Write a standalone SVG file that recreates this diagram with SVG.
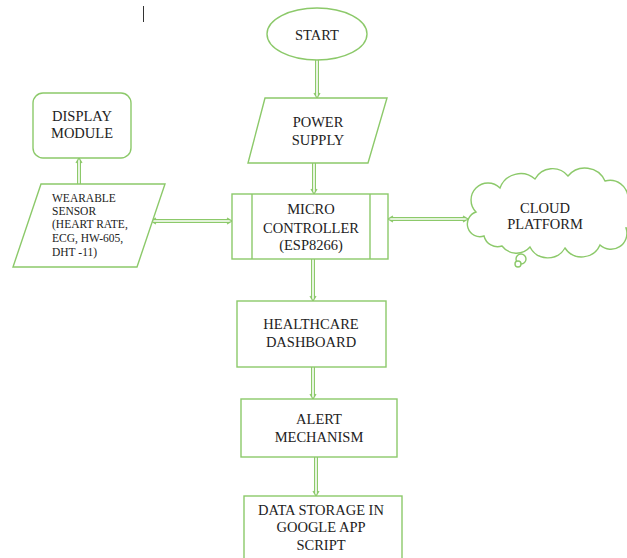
<svg xmlns="http://www.w3.org/2000/svg" width="627" height="558" viewBox="0 0 627 558">
<defs>
<style>
.sh{fill:#fff;stroke:#8cc96a;stroke-width:1.4}
.t{font-family:"Liberation Serif","Times New Roman",serif;font-size:14.5px;fill:#222;text-anchor:middle}
.ts{font-family:"Liberation Serif","Times New Roman",serif;font-size:11.5px;fill:#222}
.dl{stroke:#8cc96a;stroke-width:4;fill:none}
.dw{stroke:#fff;stroke-width:1.6;fill:none}
.ah{stroke:#8cc96a;stroke-width:1.2;fill:none}
</style>
</defs>
<rect width="627" height="558" fill="#fff"/>
<line x1="143.5" y1="6" x2="143.5" y2="22" stroke="#333" stroke-width="1"/>
<g id="cloud">
<path class="sh" d="M484 236 A12 12 0 0 1 476 212 A16 16 0 0 1 500 188 A22 22 0 0 1 535 179 A20 20 0 0 1 568 176 A22 22 0 0 1 605 181 A18 18 0 0 1 628 198 A14 14 0 0 1 626 228 A16 16 0 0 1 600 245 A20 20 0 0 1 565 248 A20 20 0 0 1 530 247 A18 18 0 0 1 502 246 A14 14 0 0 1 484 236 Z"/>
<circle class="sh" cx="521" cy="259" r="5"/>
<circle class="sh" cx="518" cy="264" r="3"/>
<text class="t" x="545" y="213">CLOUD</text>
<text class="t" x="545" y="229">PLATFORM</text>
</g>
<g id="connectors">
<path class="dl" d="M317 60V96"/><path class="dw" d="M317 60V96"/>
<polyline class="ah" points="314,93 317,98 320,93"/>
<path class="dl" d="M314 163V192"/><path class="dw" d="M314 163V192"/>
<polyline class="ah" points="311,189 314,194 317,189"/>
<path class="dl" d="M313 259V299"/><path class="dw" d="M313 259V299"/>
<polyline class="ah" points="310,296 313,301 316,296"/>
<path class="dl" d="M313 367V397"/><path class="dw" d="M313 367V397"/>
<polyline class="ah" points="310,394 313,399 316,394"/>
<path class="dl" d="M316 457V494"/><path class="dw" d="M316 457V494"/>
<polyline class="ah" points="313,491 316,496 319,491"/>
<path class="dl" d="M79 184V160"/><path class="dw" d="M79 184V160"/>
<polyline class="ah" points="76,163 79,158 82,163"/>
<path class="dl" d="M153 221H230"/><path class="dw" d="M153 221H230"/>
<polyline class="ah" points="156,218 151,221 156,224"/>
<polyline class="ah" points="227,218 232,221 227,224"/>
<path class="dl" d="M390 219H466"/><path class="dw" d="M390 219H466"/>
<polyline class="ah" points="393,216 388,219 393,222"/>
<polyline class="ah" points="463,216 468,219 463,222"/>
</g>
<g id="start">
<ellipse class="sh" cx="317" cy="34" rx="50" ry="26"/>
<text class="t" x="317" y="40">START</text>
</g>
<g id="power">
<polygon class="sh" points="265,98 387,98 368,163 248,163"/>
<text class="t" x="318" y="127">POWER</text>
<text class="t" x="318" y="145">SUPPLY</text>
</g>
<g id="micro">
<rect class="sh" x="232" y="194" width="156" height="65"/>
<line class="sh" x1="252" y1="194" x2="252" y2="259"/>
<line class="sh" x1="370" y1="194" x2="370" y2="259"/>
<text class="t" x="311" y="214">MICRO</text>
<text class="t" x="311" y="233">CONTROLLER</text>
<text class="t" x="311" y="250">(ESP8266)</text>
</g>
<g id="display">
<rect class="sh" x="33" y="93" width="98" height="65" rx="10"/>
<text class="t" x="82" y="121">DISPLAY</text>
<text class="t" x="82" y="138">MODULE</text>
</g>
<g id="wearable">
<polygon class="sh" points="41,184 165,184 137,267 13,267"/>
<text class="ts" x="52" y="202">WEARABLE</text>
<text class="ts" x="52" y="215">SENSOR</text>
<text class="ts" x="52" y="228">(HEART RATE,</text>
<text class="ts" x="52" y="242">ECG, HW-605,</text>
<text class="ts" x="52" y="256">DHT -11)</text>
</g>
<g id="dashboard">
<rect class="sh" x="237" y="301" width="149" height="66"/>
<text class="t" x="311" y="329">HEALTHCARE</text>
<text class="t" x="311" y="347">DASHBOARD</text>
</g>
<g id="alert">
<rect class="sh" x="241" y="399" width="156" height="58"/>
<text class="t" x="319" y="424">ALERT</text>
<text class="t" x="319" y="442">MECHANISM</text>
</g>
<g id="datastorage">
<rect class="sh" x="244" y="496" width="158" height="70"/>
<text class="t" x="321" y="515">DATA STORAGE IN</text>
<text class="t" x="321" y="532">GOOGLE APP</text>
<text class="t" x="321" y="550">SCRIPT</text>
</g>
</svg>
